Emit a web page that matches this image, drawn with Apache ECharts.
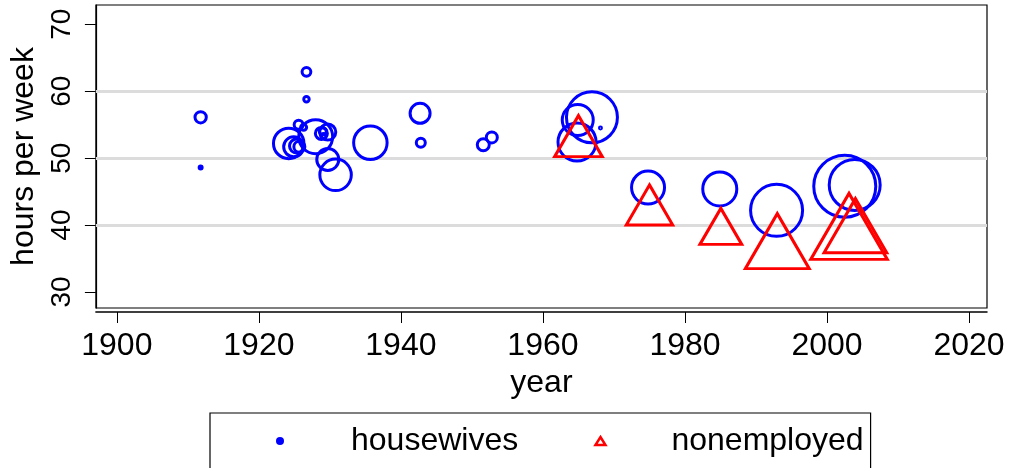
<!DOCTYPE html>
<html>
<head>
<meta charset="utf-8">
<script src="https://cdn.jsdelivr.net/npm/echarts@6/dist/echarts.min.js"></script>
<style>
  html, body { margin: 0; padding: 0; background: #fff; }
  #chart { width: 1011px; height: 468px; }
</style>
</head>
<body>
<div id="chart"></div>
<script>
// ---- data ----
const houseYears   = [1911.8, 1911.8, 1926.7, 1926.7, 1924.2, 1924.9, 1925.3, 1925.7, 1925.6, 1926.3,
                      1928.0, 1928.8, 1929.0, 1929.1, 1929.7, 1929.7, 1930.8, 1935.7, 1942.7, 1942.8,
                      1951.6, 1952.8, 1966.9, 1964.9, 1964.8, 1968.1, 1974.8, 1984.9, 1992.9, 2002.5, 2003.9];
const houseHours   = [56.1, 48.6, 62.9, 58.8, 52.2, 51.7, 51.8, 51.7, 55.0, 54.6,
                      53.2, 53.7, 54.0, 53.3, 53.9, 49.8, 47.5, 52.3, 56.7, 52.3,
                      52.0, 53.1, 56.1, 55.7, 52.4, 54.5, 45.6, 45.4, 42.2, 45.8, 46.0];
const houseWeights = [2.0, 0.14, 1.2, 0.46, 14.5, 6.25, 3.06, 1.89, 1.27, 0.56,
                      18.0, 2.25, 0.77, 0.39, 4.0, 7.56, 15.5, 17.5, 6.25, 1.27,
                      2.25, 1.89, 40.6, 15.0, 22.6, 0.06, 17.0, 18.1, 42.3, 60.1, 40.6];

const nonYears   = [1965.0, 1975.0, 1985.05, 1993.0, 2003.1, 2004.0];
const nonHours   = [53.3, 43.0, 39.8, 37.6, 39.8, 39.9];
const nonWeights = [26.3, 25.0, 20.3, 47.3, 68.0, 45.6];

const xTicks = [1900, 1920, 1940, 1960, 1980, 2000, 2020];
const yTicks = [30, 40, 50, 60, 70];
const gridValues = [40, 50, 60];

const seriesNames = ['housewives', 'nonemployed'];
const axisTitles = { x: 'year', y: 'hours per week' };

// ---- build ----
const houseData = houseYears.map((y, i) => [y, houseHours[i], houseWeights[i]]);
const nonData = nonYears.map((y, i) => [y, nonHours[i], nonWeights[i]]);

const FONT = '"Liberation Sans", Arial, sans-serif';
const BLUE = '#0000ff';
const RED = '#ff0000';

const chart = echarts.init(document.getElementById('chart'), null, { renderer: 'canvas' });

chart.setOption({
  animation: false,
  backgroundColor: '#fff',
  textStyle: { fontFamily: FONT },
  grid: {
    left: 93, right: 24, top: 5, bottom: 160,
    show: true, borderColor: '#000', borderWidth: 1.2, backgroundColor: 'transparent'
  },
  xAxis: {
    type: 'value',
    min: 1897.05, max: 2022.53,
    offset: 4,
    name: axisTitles.x,
    nameLocation: 'middle',
    nameGap: 46,
    nameTextStyle: { fontSize: 32, color: '#000', fontFamily: FONT },
    axisLine: { show: true, lineStyle: { color: '#000', width: 1.5 } },
    axisTick: { show: true, length: 11, lineStyle: { color: '#000', width: 1 }, customValues: xTicks },
    axisLabel: { customValues: xTicks, formatter: v => String(v), fontSize: 32, color: '#000', margin: 18, fontFamily: FONT },
    splitLine: { show: false }
  },
  yAxis: {
    type: 'value',
    min: 27.61, max: 72.88,
    name: axisTitles.y,
    nameLocation: 'middle',
    nameGap: 42,
    nameRotate: 90,
    nameTextStyle: { fontSize: 32, color: '#000', fontFamily: FONT },
    axisLine: { show: true, lineStyle: { color: '#000', width: 1.2 } },
    axisTick: { show: true, length: 11, lineStyle: { color: '#000', width: 1 }, customValues: yTicks },
    axisLabel: { customValues: yTicks, formatter: v => String(v), rotate: 90, fontSize: 28, color: '#000', margin: 20, fontFamily: FONT },
    splitLine: { show: false }
  },
  legend: {
    data: [
      { name: seriesNames[0], icon: 'circle', itemStyle: { color: BLUE, borderWidth: 0 } },
      { name: seriesNames[1], icon: 'triangle', itemStyle: { color: 'rgba(0,0,0,0)', borderColor: RED, borderWidth: 2.5 } }
    ],
    left: 210, top: 413,
    orient: 'horizontal',
    itemWidth: 10, itemHeight: 8,
    itemGap: 76,
    padding: [12, 7, 40, 66],
    borderColor: '#000', borderWidth: 1.2, borderRadius: 0,
    selectedMode: false,
    textStyle: { fontSize: 32, color: '#000', fontFamily: FONT, padding: [0, 0, 0, 61] }
  },
  series: [
    {
      name: 'grid',
      type: 'scatter',
      data: [],
      silent: true,
      z: 1,
      markLine: {
        silent: true,
        z: 1,
        symbol: ['none', 'none'],
        label: { show: false },
        lineStyle: { color: '#dcdcdc', width: 3, type: 'solid' },
        emphasis: { disabled: true },
        data: gridValues.map(v => ({ yAxis: v }))
      }
    },
    {
      name: seriesNames[0],
      type: 'scatter',
      z: 3,
      data: houseData,
      symbol: 'circle',
      symbolSize: v => 8 * Math.sqrt(v[2]),
      itemStyle: { color: 'rgba(0,0,0,0)', borderColor: BLUE, borderWidth: 3, opacity: 1 },
      emphasis: { disabled: true }
    },
    {
      name: seriesNames[1],
      type: 'scatter',
      z: 4,
      data: nonData,
      symbol: 'triangle',
      symbolSize: v => [1.16 * 8 * Math.sqrt(v[2]), 8 * Math.sqrt(v[2])],
      itemStyle: { color: 'rgba(0,0,0,0)', borderColor: RED, borderWidth: 3, opacity: 1 },
      emphasis: { disabled: true }
    }
  ]
});
</script>
</body>
</html>
